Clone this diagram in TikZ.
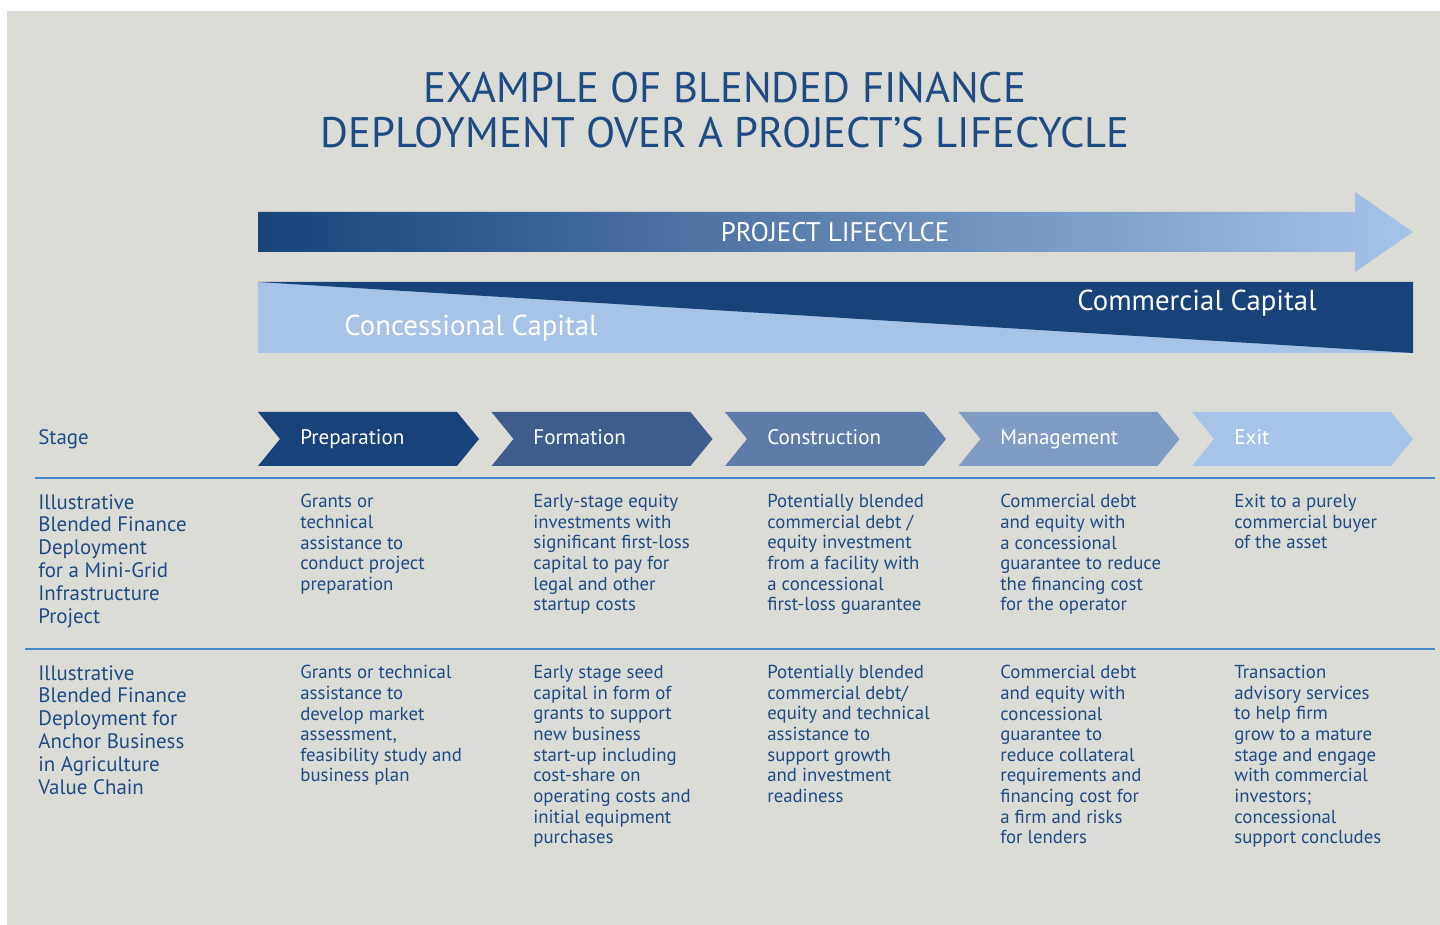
\documentclass[tikz,border=0pt]{standalone}
\usepackage{fontspec}
\setmainfont{PT Sans}
\usepackage{tikz}
\usetikzlibrary{positioning}

\definecolor{bggrey}{HTML}{DBDCD6}
\definecolor{navy}{HTML}{17427A}
\definecolor{formblue}{HTML}{3E5C8C}
\definecolor{buildblue}{HTML}{5F7BAA}
\definecolor{mgmtblue}{HTML}{809CC4}
\definecolor{skyblue}{HTML}{A7C4E8}
\definecolor{inkblue}{HTML}{1F4B85}
\definecolor{ruleblue}{HTML}{4A86C8}

\begin{document}
\begin{tikzpicture}[
    x=0.02cm, y=-0.02cm,
    body/.style={anchor=north west, inner sep=0pt, align=left, text=inkblue, font=\fontsize{10.7}{11.75}\selectfont},
    rowhead/.style={body, font=\fontsize{11.9}{13}\selectfont},
    stagelabel/.style={anchor=base west, inner sep=0pt, text=white, font=\fontsize{12}{14}\selectfont},
    capital/.style={inner sep=0pt, text=white, font=\fontsize{16.4}{19}\selectfont},
    divider/.style={ruleblue, line width=1.3pt}
  ]
    \useasboundingbox (0,0) rectangle (1440,925);
    \fill[white] (0,0) rectangle (1440,925);
    \fill[bggrey] (7,11) rectangle (1440,925);

    \node[text=inkblue, align=center, font=\fontsize{24.3}{25.5}\selectfont] (title) at (725,110) {EXAMPLE OF BLENDED FINANCE\\DEPLOYMENT OVER A PROJECT'S LIFECYCLE};

    % lifecycle arrow
    \shade[left color=navy, middle color=formblue!80!skyblue, right color=skyblue]
      (258,212) -- (1355,212) -- (1355,192) -- (1413,232) -- (1355,272) -- (1355,252) -- (258,252) -- cycle;
    \node[text=white, inner sep=0pt, font=\fontsize{15.3}{17}\selectfont] (lifecycle) at (835,232) {PROJECT LIFECYLCE};

    % capital band
    \fill[skyblue] (258,282) rectangle (1413,353);
    \fill[navy] (258,282) -- (1413,282) -- (1413,353) -- cycle;
    \node[capital] (concessional) at (471,328) {Concessional Capital};
    \node[capital] (commercial) at (1197,303) {Commercial Capital};

    % stage chevrons
    \foreach \col [count=\i from 0] in {navy, formblue, buildblue, mgmtblue, skyblue} {
      \pgfmathsetmacro\xo{258+233.5*\i}
      \fill[\col] (\xo,412) -- ++(199,0) -- ++(22,27) -- ++(-22,27) -- ++(-199,0) -- ++(22,-27) -- cycle;
    }
    \node[stagelabel, text=inkblue, font=\fontsize{11.9}{13}\selectfont] (stage) at (38,445) {Stage};
    \node[stagelabel] (prep) at (300,445) {Preparation};
    \node[stagelabel] (form) at (533,445) {Formation};
    \node[stagelabel] (build) at (767,445) {Construction};
    \node[stagelabel] (mgmt) at (1000,445) {Management};
    \node[stagelabel] (exit) at (1234,445) {Exit};

    \draw[divider] (35,478) -- (1435,478);
    \draw[divider] (25,649) -- (1435,649);

    \coordinate (row1) at (38,494);
    \coordinate (row2) at (38,665);

    % mini-grid row
    \node[rowhead] (gridhead) at (row1) {Illustrative\\Blended Finance\\Deployment\\for a Mini-Grid\\Infrastructure\\Project};
    \node[body] (gridprep) at (prep.west |- row1) {Grants or\\technical\\assistance to\\conduct project\\preparation};
    \node[body] (gridform) at (form.west |- row1) {Early-stage equity\\investments with\\significant first-loss\\capital to pay for\\legal and other\\startup costs};
    \node[body] (gridbuild) at (build.west |- row1) {Potentially blended\\commercial debt /\\equity investment\\from a facility with\\a concessional\\first-loss guarantee};
    \node[body] (gridmgmt) at (mgmt.west |- row1) {Commercial debt\\and equity with\\a concessional\\guarantee to reduce\\the financing cost\\for the operator};
    \node[body] (gridexit) at (exit.west |- row1) {Exit to a purely\\commercial buyer\\of the asset};

    % agriculture row
    \node[rowhead] (agrihead) at (row2) {Illustrative\\Blended Finance\\Deployment for\\Anchor Business\\in Agriculture\\Value Chain};
    \node[body] (agriprep) at (prep.west |- row2) {Grants or technical\\assistance to\\develop market\\assessment,\\feasibility study and\\business plan};
    \node[body] (agriform) at (form.west |- row2) {Early stage seed\\capital in form of\\grants to support\\new business\\start-up including\\cost-share on\\operating costs and\\initial equipment\\purchases};
    \node[body] (agribuild) at (build.west |- row2) {Potentially blended\\commercial debt/\\equity and technical\\assistance to\\support growth\\and investment\\readiness};
    \node[body] (agrimgmt) at (mgmt.west |- row2) {Commercial debt\\and equity with\\concessional\\guarantee to\\reduce collateral\\requirements and\\financing cost for\\a firm and risks\\for lenders};
    \node[body] (agriexit) at (exit.west |- row2) {Transaction\\advisory services\\to help firm\\grow to a mature\\stage and engage\\with commercial\\investors;\\concessional\\support concludes};
  \end{tikzpicture}
\end{document}
